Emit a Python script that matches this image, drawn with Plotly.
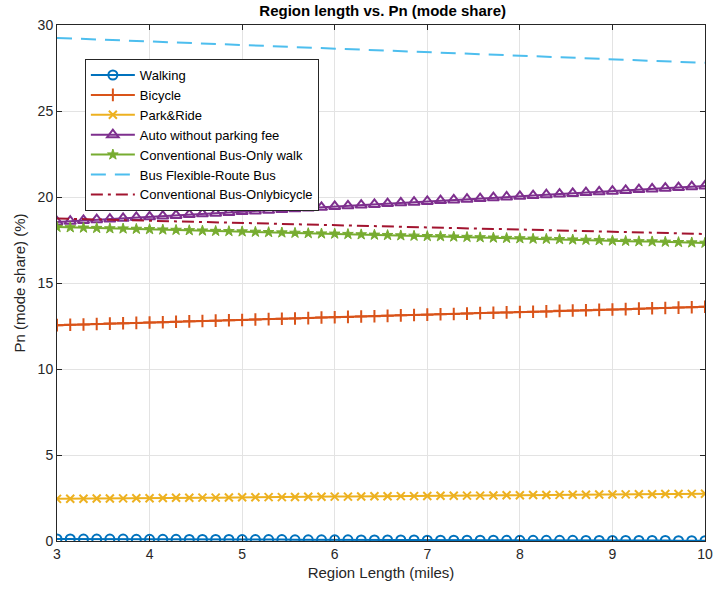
import plotly.graph_objects as go

# Region length grid (miles), 50 samples from 3 to 10
region_length = [3.000, 3.143, 3.286, 3.429, 3.571, 3.714, 3.857, 4.000, 4.143, 4.286,
                 4.429, 4.571, 4.714, 4.857, 5.000, 5.143, 5.286, 5.429, 5.571, 5.714,
                 5.857, 6.000, 6.143, 6.286, 6.429, 6.571, 6.714, 6.857, 7.000, 7.143,
                 7.286, 7.429, 7.571, 7.714, 7.857, 8.000, 8.143, 8.286, 8.429, 8.571,
                 8.714, 8.857, 9.000, 9.143, 9.286, 9.429, 9.571, 9.714, 9.857, 10.000]

walking = [0.12, 0.12, 0.11, 0.11, 0.11, 0.11, 0.10, 0.10, 0.10, 0.10,
           0.09, 0.09, 0.09, 0.09, 0.08, 0.08, 0.08, 0.08, 0.07, 0.07,
           0.07, 0.07, 0.07, 0.06, 0.06, 0.06, 0.06, 0.06, 0.05, 0.05,
           0.05, 0.05, 0.05, 0.05, 0.04, 0.04, 0.04, 0.04, 0.04, 0.04,
           0.03, 0.03, 0.03, 0.03, 0.03, 0.03, 0.03, 0.02, 0.02, 0.02]

bicycle = [12.55, 12.57, 12.59, 12.62, 12.64, 12.66, 12.68, 12.70, 12.72, 12.75,
           12.77, 12.79, 12.81, 12.83, 12.85, 12.88, 12.90, 12.92, 12.94, 12.96,
           12.99, 13.01, 13.03, 13.05, 13.07, 13.09, 13.12, 13.14, 13.16, 13.18,
           13.20, 13.22, 13.25, 13.27, 13.29, 13.31, 13.33, 13.35, 13.38, 13.40,
           13.42, 13.44, 13.46, 13.48, 13.51, 13.53, 13.55, 13.57, 13.59, 13.62]

park_ride = [2.45, 2.46, 2.46, 2.47, 2.47, 2.48, 2.49, 2.49, 2.50, 2.51,
             2.51, 2.52, 2.52, 2.53, 2.54, 2.54, 2.55, 2.55, 2.56, 2.57,
             2.57, 2.58, 2.58, 2.59, 2.60, 2.60, 2.61, 2.61, 2.62, 2.63,
             2.63, 2.64, 2.64, 2.65, 2.66, 2.66, 2.67, 2.67, 2.68, 2.69,
             2.69, 2.70, 2.70, 2.71, 2.72, 2.72, 2.73, 2.73, 2.74, 2.75]

auto_no_fee = [18.55, 18.59, 18.64, 18.68, 18.72, 18.76, 18.81, 18.85, 18.89, 18.93,
               18.98, 19.02, 19.06, 19.10, 19.15, 19.19, 19.23, 19.27, 19.32, 19.36,
               19.40, 19.45, 19.49, 19.53, 19.57, 19.62, 19.66, 19.70, 19.74, 19.79,
               19.83, 19.87, 19.91, 19.96, 20.00, 20.04, 20.08, 20.13, 20.17, 20.21,
               20.26, 20.30, 20.34, 20.38, 20.43, 20.47, 20.51, 20.55, 20.60, 20.64]

conv_bus_walk = [18.25, 18.23, 18.21, 18.19, 18.17, 18.16, 18.14, 18.12, 18.10, 18.08,
                 18.06, 18.04, 18.02, 18.01, 17.99, 17.97, 17.95, 17.93, 17.91, 17.89,
                 17.87, 17.86, 17.84, 17.82, 17.80, 17.78, 17.76, 17.74, 17.72, 17.71,
                 17.69, 17.67, 17.65, 17.63, 17.61, 17.59, 17.57, 17.56, 17.54, 17.52,
                 17.50, 17.48, 17.46, 17.44, 17.42, 17.41, 17.39, 17.37, 17.35, 17.33]

flex_route = [29.25, 29.22, 29.19, 29.16, 29.13, 29.10, 29.07, 29.04, 29.01, 28.98,
              28.95, 28.92, 28.89, 28.87, 28.84, 28.81, 28.78, 28.75, 28.72, 28.69,
              28.66, 28.63, 28.60, 28.57, 28.54, 28.51, 28.48, 28.45, 28.42, 28.39,
              28.36, 28.33, 28.30, 28.27, 28.24, 28.22, 28.19, 28.16, 28.13, 28.10,
              28.07, 28.04, 28.01, 27.98, 27.95, 27.92, 27.89, 27.86, 27.83, 27.80]

conv_bus_bike = [18.75, 18.73, 18.71, 18.69, 18.68, 18.66, 18.64, 18.62, 18.60, 18.58,
                 18.57, 18.55, 18.53, 18.51, 18.49, 18.47, 18.46, 18.44, 18.42, 18.40,
                 18.38, 18.36, 18.35, 18.33, 18.31, 18.29, 18.27, 18.25, 18.24, 18.22,
                 18.20, 18.18, 18.16, 18.14, 18.13, 18.11, 18.09, 18.07, 18.05, 18.03,
                 18.02, 18.00, 17.98, 17.96, 17.94, 17.92, 17.91, 17.89, 17.87, 17.85]

x_ticks = [3, 4, 5, 6, 7, 8, 9, 10]
y_ticks = [0, 5, 10, 15, 20, 25, 30]

FONT = "Liberation Sans, Arial, Helvetica, sans-serif"
AX = "#262626"

fig = go.Figure()

def add(y, name, color, symbol=None, msize=8, dash="solid", mline=2):
    mode = "lines+markers" if symbol else "lines"
    marker = None
    if symbol:
        marker = dict(symbol=symbol, size=msize, color=color,
                      line=dict(color=color, width=mline))
    fig.add_trace(go.Scatter(x=region_length, y=y, name=name, mode=mode,
                             line=dict(color=color, width=2, dash=dash),
                             marker=marker))

add(walking, "Walking", "#0072BD", "circle-open", 9)
add(bicycle, "Bicycle", "#D95319", "cross-thin-open", 9)
add(park_ride, "Park&Ride", "#EDB120", "x-thin-open", 8)
add(auto_no_fee, "Auto without parking fee", "#7E2F8E", "triangle-up-open", 10)
add(conv_bus_walk, "Conventional Bus-Only walk", "#77AC30", "star", 8, mline=1)
add(flex_route, "Bus Flexible-Route Bus", "#4DBEEE", None, dash="15px,9px")
add(conv_bus_bike, "Conventional Bus-Onlybicycle", "#A2142F", None, dash="12px,5px,3px,5px")

fig.update_layout(
    width=722, height=594,
    margin=dict(l=57, r=9, t=25, b=53),
    paper_bgcolor="white", plot_bgcolor="white",
    font=dict(family=FONT, size=14, color=AX),
    title=dict(text="<b>Region length vs. Pn (mode share)</b>", x=0.53, xanchor="center",
               y=0.982, yanchor="middle", font=dict(size=15, color="#000000")),
    legend=dict(x=0.043, y=0.934, xanchor="left", yanchor="top",
                bgcolor="white", bordercolor="#262626", borderwidth=1,
                font=dict(size=13, color="#000000"), itemwidth=44,
                tracegroupgap=0),
    showlegend=True,
)
fig.update_xaxes(range=[3, 10], tickvals=x_ticks, showgrid=True, gridcolor="#e3e3e3",
                 showline=True, linecolor=AX, linewidth=1, mirror="allticks",
                 ticks="inside", ticklen=5, tickcolor=AX, zeroline=False,
                 title=dict(text="Region Length (miles)", font=dict(size=15), standoff=6),
                 tickfont=dict(size=14))
fig.update_yaxes(range=[0, 30], tickvals=y_ticks, showgrid=True, gridcolor="#e3e3e3",
                 showline=True, linecolor=AX, linewidth=1, mirror="allticks",
                 ticks="inside", ticklen=5, tickcolor=AX, zeroline=False,
                 title=dict(text="Pn (mode share) (%)", font=dict(size=15), standoff=8),
                 tickfont=dict(size=14))

fig.write_html("out.html")
